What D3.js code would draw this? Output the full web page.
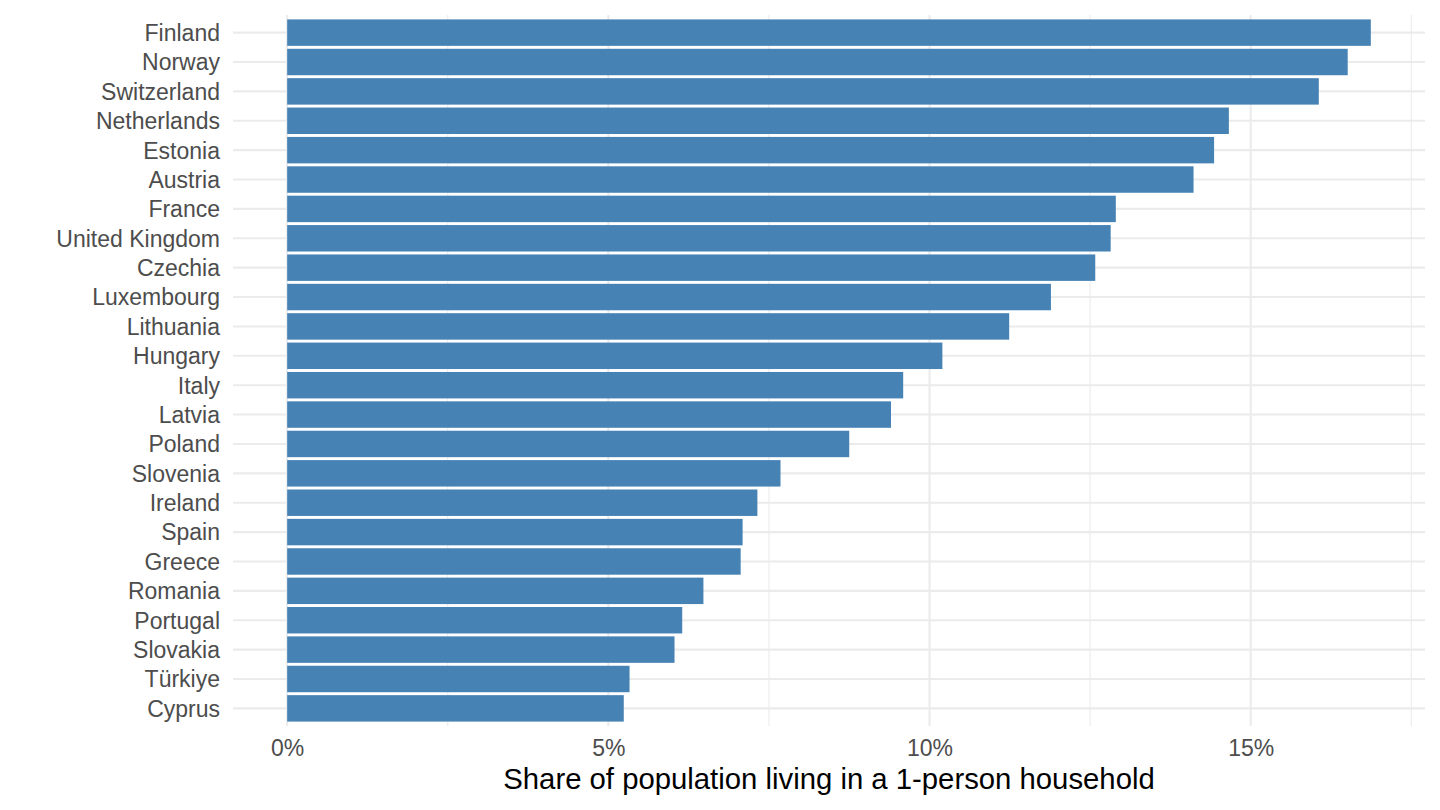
<!DOCTYPE html>
<html>
<head>
<meta charset="utf-8">
<script src="https://cdn.jsdelivr.net/npm/d3@7"></script>
<style>
  html, body { margin: 0; padding: 0; background: #fff; }
  svg { display: block; font-family: "Liberation Sans", Arial, Helvetica, sans-serif; }
</style>
</head>
<body>
<svg id="chart" width="1440" height="810"></svg>
<script>
const countries = ["Finland","Norway","Switzerland","Netherlands","Estonia","Austria","France","United Kingdom","Czechia","Luxembourg","Lithuania","Hungary","Italy","Latvia","Poland","Slovenia","Ireland","Spain","Greece","Romania","Portugal","Slovakia","Türkiye","Cyprus"];
const shares = [16.87,16.51,16.06,14.66,14.43,14.11,12.90,12.82,12.58,11.89,11.24,10.20,9.59,9.40,8.75,7.68,7.32,7.09,7.06,6.48,6.15,6.03,5.33,5.24];
const majorTicks = [0,5,10,15];
const minorTicks = [2.5,7.5,12.5,17.5];
const xTitle = "Share of population living in a 1-person household";

const data = countries.map((c,i)=>({country:c, value:shares[i]}));
const svg = d3.select("#chart");
const panel = {left:233, right:1425, top:15, bottom:726};
const maxV = d3.max(shares);
const x = d3.scaleLinear().domain([-0.05*maxV, 1.05*maxV]).range([panel.left, panel.right]);
const y = d3.scaleBand().domain(countries).range([panel.top, panel.bottom]).paddingInner(0.1).paddingOuter(0.15);
const grid = "#EBEBEB";

// minor vertical gridlines
svg.append("g").selectAll("line").data(minorTicks).join("line")
  .attr("x1", d=>x(d)).attr("x2", d=>x(d))
  .attr("y1", panel.top).attr("y2", panel.bottom)
  .attr("stroke", grid).attr("stroke-width", 1.1);
// major vertical gridlines
svg.append("g").selectAll("line").data(majorTicks).join("line")
  .attr("x1", d=>x(d)).attr("x2", d=>x(d))
  .attr("y1", panel.top).attr("y2", panel.bottom)
  .attr("stroke", grid).attr("stroke-width", 2.1);
// horizontal gridlines
svg.append("g").selectAll("line").data(countries).join("line")
  .attr("x1", panel.left).attr("x2", panel.right)
  .attr("y1", d=>y(d)+y.bandwidth()/2).attr("y2", d=>y(d)+y.bandwidth()/2)
  .attr("stroke", grid).attr("stroke-width", 2.1);

// bars
svg.append("g").selectAll("rect").data(data).join("rect")
  .attr("x", x(0))
  .attr("y", d=>y(d.country))
  .attr("width", d=>x(d.value)-x(0))
  .attr("height", y.bandwidth())
  .attr("fill", "#4682B4");

// y axis labels
const yAxis = d3.axisLeft(y).tickSize(0).tickPadding(0);
const gy = svg.append("g").attr("transform", `translate(${panel.left-13},1)`).call(yAxis);
gy.select(".domain").remove();
gy.selectAll("text").attr("fill","#4D4D4D").style("font-size","23px").attr("font-family", null);

// x axis labels
const xAxis = d3.axisBottom(x).tickValues(majorTicks).tickFormat(d=>d+"%").tickSize(0).tickPadding(0);
const gx = svg.append("g").attr("transform", `translate(0,${panel.bottom+14})`).call(xAxis);
gx.select(".domain").remove();
gx.selectAll("text").attr("fill","#4D4D4D").style("font-size","23px").attr("font-family", null).attr("dy", "0.71em");

// x title
svg.append("text")
  .attr("x", (panel.left+panel.right)/2)
  .attr("y", 789)
  .attr("text-anchor","middle")
  .attr("fill","#000")
  .style("font-size","29.3px")
  .text(xTitle);
</script>
</body>
</html>
